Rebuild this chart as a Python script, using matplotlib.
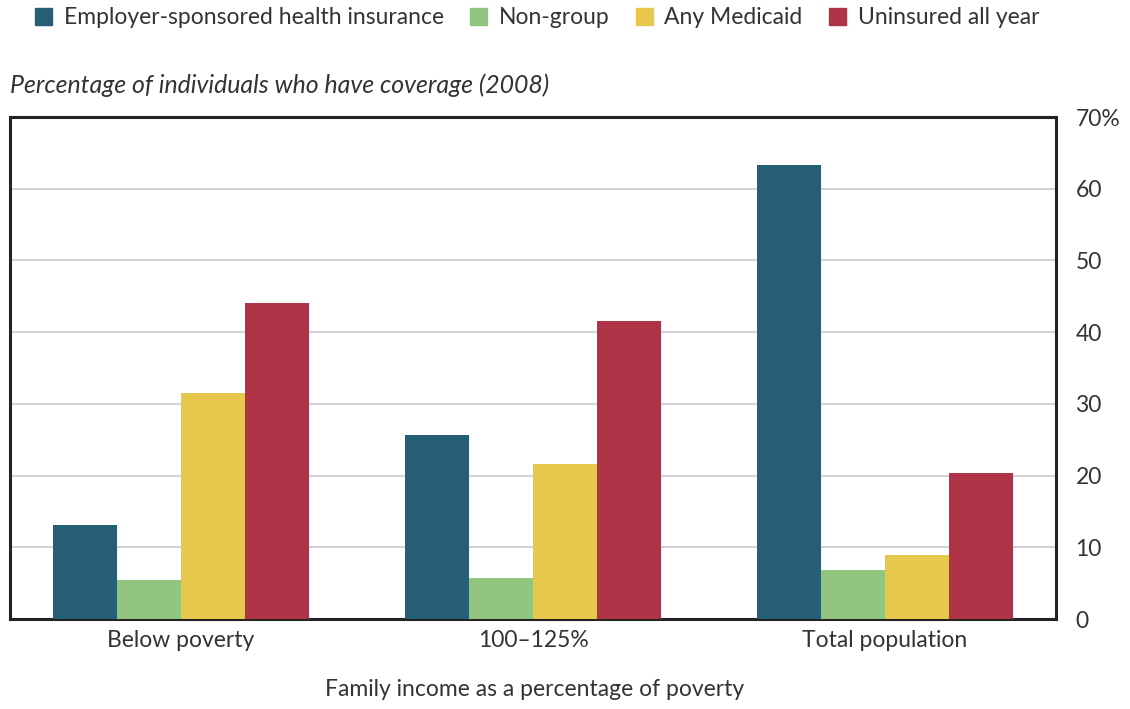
import matplotlib
matplotlib.use("Agg")
import matplotlib.pyplot as plt
import numpy as np
from matplotlib.patches import Rectangle

categories = ["Below poverty", "100\u2013125%", "Total population"]
series_names = ["Employer-sponsored health insurance", "Non-group", "Any Medicaid", "Uninsured all year"]
employer = [13.1, 25.7, 63.3]
nongroup = [5.4, 5.7, 6.8]
medicaid = [31.5, 21.6, 8.9]
uninsured = [44.1, 41.6, 20.4]
colors = ["#265E78", "#92C67F", "#E8C84C", "#AE3347"]
yticks = [0, 10, 20, 30, 40, 50, 60, 70]
ytick_labels = ["0", "10", "20", "30", "40", "50", "60", "70%"]

plt.rcParams['font.family'] = ['Lato', 'DejaVu Sans']
text_color = "#333333"

fig = plt.figure(figsize=(11.3, 7.09), dpi=100)
ax = fig.add_axes([10/1130, 1-619/709, (1056-10)/1130, (619-117)/709])

x = np.arange(len(categories))
w = 0.182
all_series = [employer, nongroup, medicaid, uninsured]
for i, (vals, c) in enumerate(zip(all_series, colors)):
    ax.bar(x + (i - 1.5) * w, vals, width=w, color=c, zorder=3, linewidth=0)

ax.set_xlim(-0.486, 2.486)
ax.set_ylim(0, 70)
ax.set_yticks(yticks)
ax.set_yticklabels(ytick_labels)
ax.yaxis.tick_right()
ax.tick_params(axis='y', length=0, pad=14, labelsize=16.5, colors=text_color)
ax.set_xticks(x)
ax.set_xticklabels(categories)
ax.tick_params(axis='x', length=0, pad=8, labelsize=16.5, colors=text_color)
ax.grid(axis='y', color="#d3d3d3", linewidth=1.5, zorder=0)
for s in ax.spines.values():
    s.set_linewidth(2.2)
    s.set_color("#222222")

fig.text(535/1130, 1-690/709, "Family income as a percentage of poverty", fontsize=16.5,
         color=text_color, ha='center', va='center')

fig.text(10/1130, 1-85/709, "Percentage of individuals who have coverage (2008)", fontsize=17.9,
         style='italic', color=text_color, va='center', ha='left')

handles = [Rectangle((0, 0), 1, 1, color=c) for c in colors]
leg = fig.legend(handles, series_names, loc='center', bbox_to_anchor=(537/1130, 1-18/709), ncol=4,
                 frameon=False, fontsize=16.5, handlelength=0.75, handleheight=0.75,
                 handletextpad=0.5, columnspacing=1.15, labelcolor=text_color)

fig.savefig("out.png", dpi=100)
